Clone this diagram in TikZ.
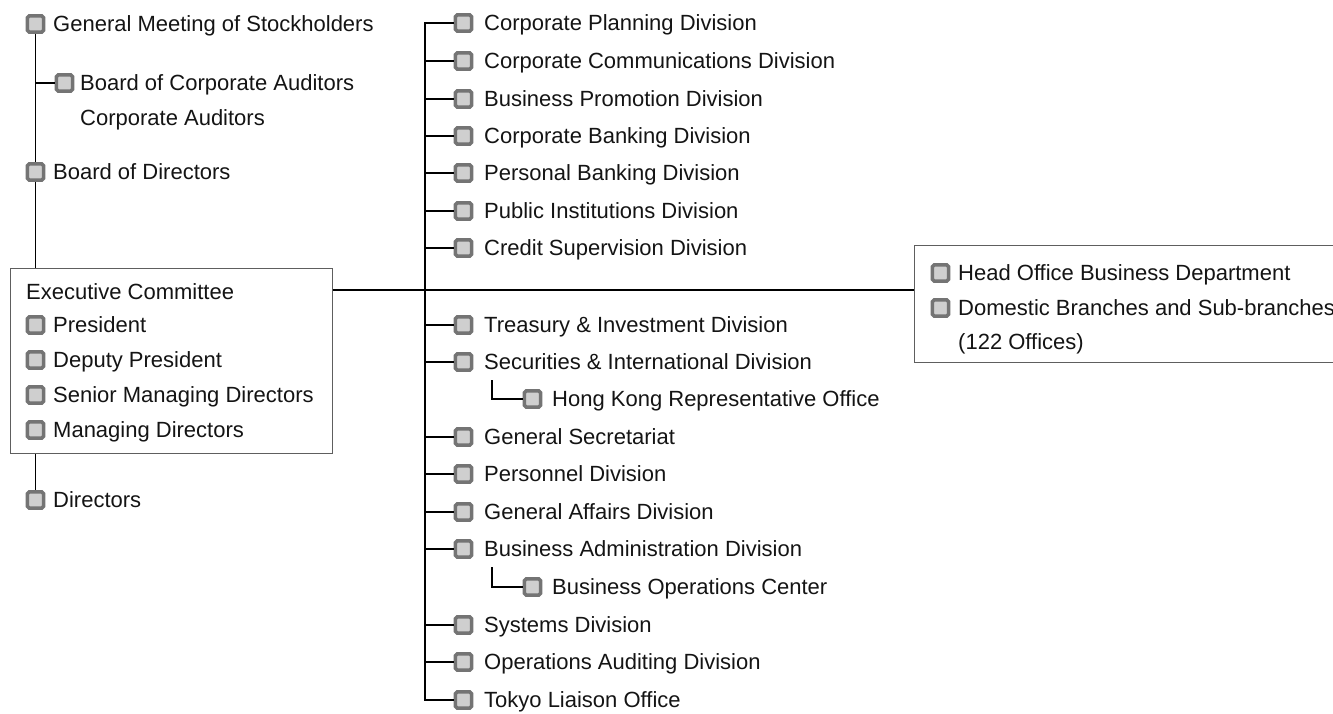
\documentclass[tikz,border=0pt]{standalone}
\usepackage{fontspec}
\setmainfont{Liberation Sans}
\definecolor{bulletedge}{HTML}{747474}
\definecolor{bulletfill}{HTML}{CFCFCF}
\definecolor{framegray}{HTML}{5E5E5E}
\definecolor{inktext}{HTML}{141414}
% bullet + label: name, bullet centre x, label x, row y, text
\newcommand{\orgrow}[5]{%
  \node[bul] (#1-b) at (#2,#4) {};
  \node[txt] (#1) at (#3,#4+7.9) {#5};
}
\begin{document}
\begin{tikzpicture}[x=1pt,y=-1pt,
  bul/.style={draw=bulletedge, fill=bulletfill, line width=3.6pt,
    rounded corners=1.8pt, minimum size=16.2pt, inner sep=0pt},
  txt/.style={anchor=base west, inner sep=0pt, text=inktext,
    font=\fontsize{22}{26}\selectfont},
  link/.style={line width=1.3pt, black},
  framebox/.style={draw=framegray, line width=1.2pt, anchor=north west,
    inner sep=0pt, fill=white}]
\useasboundingbox (0,0) rectangle (1333,713);

% ---- left column: governance ----
\orgrow{gm}{35.5}{53}{24}{General Meeting of Stockholders}
\orgrow{bca}{64.5}{80}{83}{Board of Corporate Auditors}
\node[txt] (ca) at (80,118+7.9) {Corporate Auditors};
\orgrow{bod}{35.5}{53}{172}{Board of Directors}

\node[framebox, minimum width=322pt, minimum height=185pt] (exec) at (10,268) {};
\node[txt] (ec) at (26,292+7.9) {Executive Committee};
\orgrow{pres}{35.5}{53}{325}{President}
\orgrow{dep}{35.5}{53}{360}{Deputy President}
\orgrow{smd}{35.5}{53}{395}{Senior Managing Directors}
\orgrow{md}{35.5}{53}{430}{Managing Directors}
\orgrow{dir}{35.5}{53}{500}{Directors}

\draw[link] (gm-b.south) -- (bod-b.north);
\draw[link] (gm-b.south |- bca-b) -- (bca-b.west);
\draw[link] (bod-b.south) -- (bod-b.south |- exec.north);
\draw[link] (dir-b.north |- exec.south) -- (dir-b.north);

% ---- branch office box ----
\node[framebox, minimum width=440pt, minimum height=117pt] (bo) at (914,245) {};
\orgrow{hob}{940.5}{958}{273}{Head Office Business Department}
\orgrow{dom}{940.5}{958}{308}{Domestic Branches and Sub-branches}
\node[txt] (dom2) at (958,342+7.9) {(122 Offices)};

% ---- head office divisions ----
\coordinate (hub) at (425,290);
\orgrow{cp}{463.5}{484}{23}{Corporate Planning Division}
\orgrow{cc}{463.5}{484}{61}{Corporate Communications Division}
\orgrow{bp}{463.5}{484}{99}{Business Promotion Division}
\orgrow{cb}{463.5}{484}{136}{Corporate Banking Division}
\orgrow{pb}{463.5}{484}{173}{Personal Banking Division}
\orgrow{pi}{463.5}{484}{211}{Public Institutions Division}
\orgrow{cs}{463.5}{484}{248}{Credit Supervision Division}
\orgrow{ti}{463.5}{484}{325}{Treasury \& Investment Division}
\orgrow{si}{463.5}{484}{362}{Securities \& International Division}
\orgrow{hk}{532.5}{552}{399}{Hong Kong Representative Office}
\orgrow{gs}{463.5}{484}{437}{General Secretariat}
\orgrow{pd}{463.5}{484}{474}{Personnel Division}
\orgrow{ga}{463.5}{484}{512}{General Affairs Division}
\orgrow{ba}{463.5}{484}{549}{Business Administration Division}
\orgrow{boc}{532.5}{552}{587}{Business Operations Center}
\orgrow{sd}{463.5}{484}{625}{Systems Division}
\orgrow{oa}{463.5}{484}{662}{Operations Auditing Division}
\orgrow{tl}{463.5}{484}{700}{Tokyo Liaison Office}

\draw[link] (exec.east |- hub) -- (bo.west |- hub);
\draw[link] (cp-b.west) -- (cp-b.west -| hub) -- (tl-b.west -| hub) -- (tl-b.west);
\foreach \n in {cc,bp,cb,pb,pi,cs,ti,si,gs,pd,ga,ba,sd,oa}
  \draw[link] (hub |- \n-b) -- (\n-b.west);

\coordinate (hk-up) at (492,380);
\coordinate (boc-up) at (492,567);
\draw[link] (hk-up) |- (hk-b.west);
\draw[link] (boc-up) |- (boc-b.west);
\end{tikzpicture}
\end{document}
